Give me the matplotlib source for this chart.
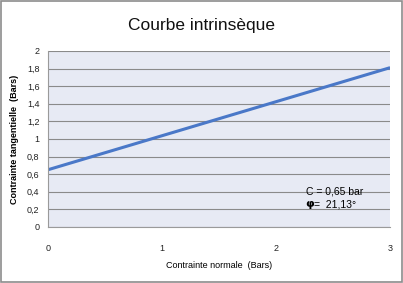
import matplotlib
matplotlib.use("Agg")
import matplotlib.pyplot as plt
from matplotlib.patches import Rectangle

plt.rcParams["font.family"] = ["Liberation Sans", "DejaVu Sans"]

# données : droite de Coulomb
sigma_n = [0, 3]
tau = [0.65, 1.81]
x_ticks = [0, 1, 2, 3]
y_ticks = [0, 0.2, 0.4, 0.6, 0.8, 1, 1.2, 1.4, 1.6, 1.8, 2]
y_labels = ["0", "0,2", "0,4", "0,6", "0,8", "1", "1,2", "1,4", "1,6", "1,8", "2"]

fig = plt.figure(figsize=(4.03, 2.83), dpi=100)
fig.patch.set_facecolor("white")
fig.add_artist(Rectangle((0.002, 0.004), 0.996, 0.992, transform=fig.transFigure,
                         fill=False, edgecolor="#8c8c8c", linewidth=1.2))

ax = fig.add_axes([0.119, 0.198, 0.849, 0.622])
ax.set_facecolor("#e7eaf4")
ax.plot(sigma_n, tau, color="#4a78c8", linewidth=2.2, solid_capstyle="butt")

ax.set_xlim(0, 3)
ax.set_ylim(0, 2)
ax.set_xticks(x_ticks)
ax.set_xticklabels([str(v) for v in x_ticks])
ax.set_yticks(y_ticks)
ax.set_yticklabels(y_labels)
ax.tick_params(axis="both", length=0, labelsize=6.5, colors="#222222")
ax.tick_params(axis="x", pad=12)
ax.tick_params(axis="y", pad=6)
ax.grid(axis="y", color="#8a8a8a", linewidth=0.8)
ax.set_axisbelow(True)
for side in ["top", "right"]:
    ax.spines[side].set_visible(False)
ax.spines["left"].set_color("#9a9a9a")
ax.spines["bottom"].set_color("#9a9a9a")

ax.set_xlabel("Contrainte normale  (Bars)", fontsize=6.5, labelpad=6)
ax.set_ylabel("Contrainte tangentielle  (Bars)", fontsize=6.5, fontweight="bold", labelpad=6)

fig.text(0.5, 0.91, "Courbe intrinsèque", ha="center", va="center", fontsize=12.5,
         color="#111111")

ax.text(2.26, 0.4, "C = 0,65 bar", fontsize=7.5, ha="left", va="center")
ax.text(2.26, 0.26, "φ", fontsize=8, ha="left", va="center", fontweight="bold",
        family=["DejaVu Sans"])
ax.text(2.33, 0.26, "=  21,13°", fontsize=7.5, ha="left", va="center")

fig.savefig("out.png", dpi=100)
